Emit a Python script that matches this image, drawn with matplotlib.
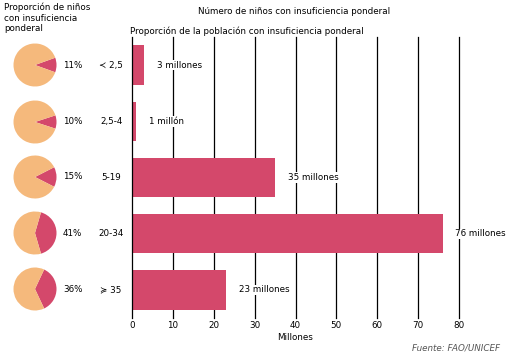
import matplotlib.pyplot as plt

W, H = 507, 358
CRIMSON = "#d4486b"
PEACH = "#f5b97c"

groups = ["≺ 2,5", "2,5-4", "5-19", "20-34", "≽ 35"]
children = [3, 1, 35, 76, 23]
child_labels = ["3 millones", "1 millón", "35 millones", "76 millones", "23 millones"]
shares = [11, 10, 15, 41, 36]
xticks = [0, 10, 20, 30, 40, 50, 60, 70, 80]

fig = plt.figure(figsize=(W / 100, H / 100), dpi=100)
plt.rcParams["font.family"] = ["DejaVu Sans"]
FS = 6.3

# main bar axes: x 132..459 px, y 37..318 px
ax = fig.add_axes([132 / W, 1 - 318 / H, (459 - 132) / W, (318 - 37) / H])
ypos = list(range(len(groups)))
ax.barh(ypos, children, height=0.7, color=CRIMSON, zorder=2)
ax.set_xlim(0, 80)
ax.set_ylim(len(groups) - 0.5, -0.5)
for x in xticks[1:]:
    ax.axvline(x, color="black", lw=0.9, zorder=1, clip_on=False)
for s in ["top", "right", "bottom"]:
    ax.spines[s].set_visible(False)
ax.spines["left"].set_linewidth(0.9)
ax.spines["left"].set_zorder(3)
ax.set_xticks(xticks)
ax.set_xticklabels([str(x) for x in xticks], fontsize=FS)
ax.tick_params(axis="x", length=0, pad=2)
ax.set_yticks([])
ax.set_xlabel("Millones", fontsize=FS, labelpad=2)

for y, v, lab in zip(ypos, children, child_labels):
    ax.annotate(lab, (v, y), xytext=(9, 0), textcoords="offset points",
                ha="left", va="center", fontsize=FS, zorder=4,
                bbox=dict(facecolor="white", edgecolor="none", pad=0.5))
    ax.annotate(groups[y], (0, y), xytext=(-15, 0), textcoords="offset points",
                ha="center", va="center", fontsize=FS)

# pies on the left
centers = [65, 122, 177, 233, 289]
r = 21.5
for cy, p in zip(centers, shares):
    pax = fig.add_axes([(35 - r) / W, 1 - (cy + r) / H, 2 * r / W, 2 * r / H])
    pax.pie([p, 100 - p], colors=[CRIMSON, PEACH], startangle=-p * 1.8,
            counterclock=True, radius=1)
    pax.set_xlim(-1, 1)
    pax.set_ylim(-1, 1)
    pax.set_aspect("auto")
    fig.text(63 / W, 1 - cy / H, f"{p}%", fontsize=FS, ha="left", va="center")

fig.text(4 / W, 1 - 3 / H, "Proporción de niños\ncon insuficiencia\nponderal",
         fontsize=FS, ha="left", va="top", linespacing=1.15)
fig.text(198 / W, 1 - 12 / H, "Número de niños con insuficiencia ponderal",
         fontsize=FS, ha="left", va="center")
fig.text(130 / W, 1 - 31 / H, "Proporción de la población con insuficiencia ponderal",
         fontsize=FS, ha="left", va="center")
fig.text(500 / W, 1 - 348 / H, "Fuente: FAO/UNICEF", fontsize=FS, ha="right",
         va="center", style="italic", color="#555555")

fig.savefig("out.png", dpi=100)
